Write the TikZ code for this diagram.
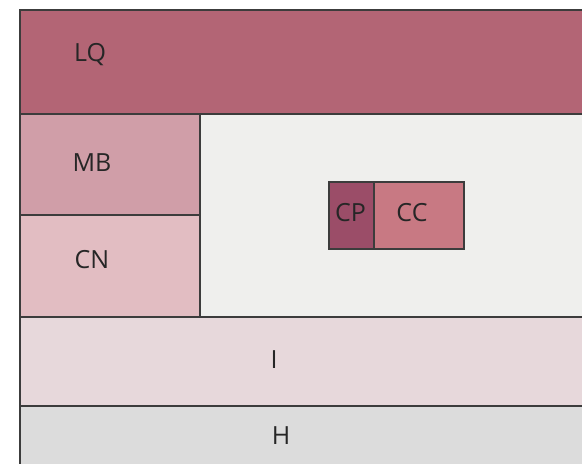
\documentclass[tikz,border=0pt]{standalone}
\usepackage{fontspec}
\setmainfont{Open Sans}
\usetikzlibrary{positioning}
\definecolor{EdgeGray}{RGB}{60, 60, 60}
\definecolor{LqRose}{RGB}{179, 101, 117}
\definecolor{MbRose}{RGB}{208, 158, 168}
\definecolor{CnRose}{RGB}{226, 189, 194}
\definecolor{CoreGray}{RGB}{239, 239, 237}
\definecolor{IRose}{RGB}{231, 216, 219}
\definecolor{HGray}{RGB}{220, 220, 220}
\definecolor{CpPlum}{RGB}{155, 77, 104}
\definecolor{CcRose}{RGB}{200, 121, 131}

\begin{document}
\begin{tikzpicture}[x=0.5pt, y=-0.5pt,
    box/.style={draw=EdgeGray, line width=1pt, inner sep=0pt, anchor=north west},
    lbl/.style={font=\fontsize{12.5}{14}\selectfont, text=black!85, inner sep=0pt}]
        \useasboundingbox (0,0) rectangle (582,463);
        \clip (0,0) rectangle (582,463);
        % layers
        \node[box, fill=LqRose, minimum width=300pt, minimum height=52pt] (lq) at (19,9) {};
        \node[box, fill=MbRose, minimum width=90pt, minimum height=50.5pt] (mb) at (19,113) {};
        \node[box, fill=CnRose, minimum width=90pt, minimum height=51pt] (cn) at (19,214) {};
        \node[box, fill=CoreGray, minimum width=210pt, minimum height=101.5pt] (core) at (199,113) {};
        \node[box, fill=IRose, minimum width=300pt, minimum height=44.5pt] (i) at (19,316) {};
        \node[box, fill=HGray, minimum width=300pt, minimum height=40pt] (h) at (19,405) {};
        % inner pair
        \node[box, fill=CpPlum, minimum width=22.5pt, minimum height=33.5pt] (cp) at (328,181) {};
        \node[box, fill=CcRose, minimum width=45pt, minimum height=33.5pt] (cc) at (373,181) {};
        % labels
        \node[lbl] (lqtext) at (90,55) {LQ};
        \node[lbl] (mbtext) at (92,163) {MB};
        \node[lbl] (cntext) at (92,260) {CN};
        \node[lbl] (itext) at (274,360) {I};
        \node[lbl] (htext) at (281,436) {H};
        \node[lbl] (cptext) at (350.5,213) {CP};
        \node[lbl] (cctext) at (412,213) {CC};
    \end{tikzpicture}
\end{document}
